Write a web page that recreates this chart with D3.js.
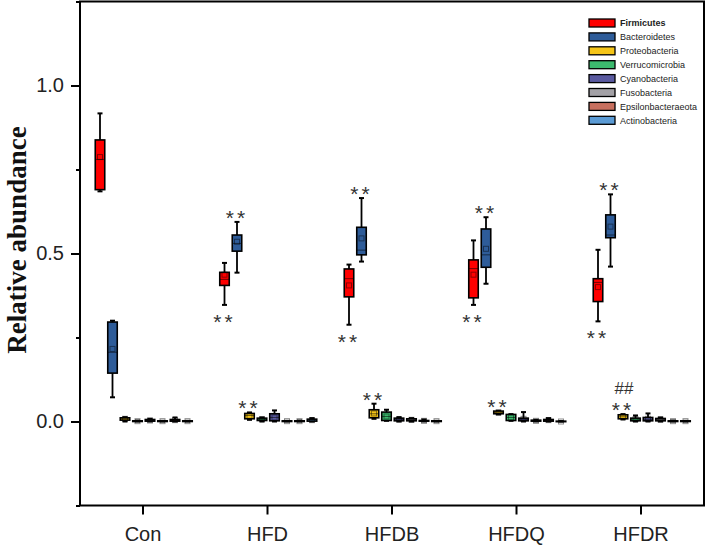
<!DOCTYPE html>
<html><head><meta charset="utf-8">
<script src="https://cdn.jsdelivr.net/npm/d3@7"></script>
<style>
html,body{margin:0;padding:0;background:#fff;}
svg{display:block;}
</style></head>
<body>
<svg id="chart" width="709" height="545"></svg>
<script>
// ---------- data ----------
const categories = ["Con", "HFD", "HFDB", "HFDQ", "HFDR"];
const phyla = ["Firmicutes", "Bacteroidetes", "Proteobacteria", "Verrucomicrobia",
  "Cyanobacteria", "Fusobacteria", "Epsilonbacteraeota", "Actinobacteria"];
const phylumColors = ["#ff0000", "#2e5c99", "#f5c518", "#3cba6e",
  "#5a5aa0", "#a3a1a6", "#c8705f", "#5b9bd5"];
const yMajorTicks = [0, 0.5, 1.0];
const yMinorTicks = [-0.25, 0.25, 0.75, 1.25];

// each entry per group: [min, q1, median, q3, max, mean]
const firmicutes = [[0.685, 0.69, 0.78, 0.838, 0.917, 0.787], [0.347, 0.405, 0.423, 0.444, 0.472, 0.437],
  [0.288, 0.371, 0.425, 0.454, 0.467, 0.405], [0.347, 0.368, 0.455, 0.481, 0.539, 0.437],
  [0.298, 0.357, 0.414, 0.425, 0.511, 0.40]];
const bacteroidetes = [[0.072, 0.144, 0.206, 0.296, 0.30, 0.216], [0.443, 0.507, 0.53, 0.555, 0.594, 0.535],
  [0.476, 0.496, 0.51, 0.578, 0.665, 0.545], [0.41, 0.459, 0.496, 0.573, 0.608, 0.514],
  [0.461, 0.547, 0.555, 0.615, 0.676, 0.58]];
const proteobacteria = [[0.0, 0.004, 0.008, 0.011, 0.013, 0.008], [0.005, 0.008, 0.018, 0.024, 0.027, 0.017],
  [0.008, 0.011, 0.023, 0.035, 0.053, 0.024], [0.021, 0.023, 0.027, 0.031, 0.032, 0.027],
  [0.006, 0.008, 0.014, 0.02, 0.022, 0.014]];
const verrucomicrobia = [[0, 0, 0.001, 0.002, 0.003, 0.001], [0.0, 0.003, 0.006, 0.01, 0.012, 0.007],
  [0.002, 0.003, 0.015, 0.028, 0.035, 0.015], [0.002, 0.003, 0.012, 0.021, 0.022, 0.012],
  [0.0, 0.002, 0.005, 0.01, 0.018, 0.007]];
const cyanobacteria = [[0, 0.001, 0.003, 0.006, 0.008, 0.003], [0.0, 0.002, 0.012, 0.023, 0.033, 0.012],
  [0, 0.002, 0.006, 0.01, 0.013, 0.006], [0, 0.002, 0.006, 0.01, 0.028, 0.008],
  [0, 0.002, 0.006, 0.012, 0.024, 0.008]];
const fusobacteria = [[0, 0, 0.001, 0.002, 0.002, 0.001], [0, 0, 0.001, 0.002, 0.002, 0.001],
  [0, 0.002, 0.005, 0.008, 0.01, 0.005], [0, 0.001, 0.002, 0.004, 0.005, 0.002],
  [0, 0.002, 0.006, 0.009, 0.012, 0.006]];
const epsilonbacteraeota = [[0, 0.001, 0.003, 0.006, 0.012, 0.004], [0, 0, 0.001, 0.002, 0.003, 0.001],
  [0, 0.001, 0.002, 0.003, 0.006, 0.002], [0, 0.001, 0.003, 0.006, 0.01, 0.004],
  [0, 0, 0.001, 0.002, 0.003, 0.001]];
const actinobacteria = [[0, 0, 0.001, 0.002, 0.002, 0.001], [0, 0.001, 0.004, 0.007, 0.01, 0.004],
  [0, 0, 0.001, 0.002, 0.002, 0.001], [0, 0, 0, 0.001, 0.001, 0],
  [0, 0, 0.001, 0.002, 0.002, 0.001]];
const seriesStats = [firmicutes, bacteroidetes, proteobacteria, verrucomicrobia,
  cyanobacteria, fusobacteria, epsilonbacteraeota, actinobacteria];

// significance marks
const annotations = [
  {group: "HFD", phylum: "Bacteroidetes", text: "**", pos: "above"},
  {group: "HFD", phylum: "Firmicutes", text: "**", pos: "below"},
  {group: "HFD", phylum: "Proteobacteria", text: "**", pos: "above"},
  {group: "HFDB", phylum: "Bacteroidetes", text: "**", pos: "above"},
  {group: "HFDB", phylum: "Firmicutes", text: "**", pos: "below"},
  {group: "HFDB", phylum: "Proteobacteria", text: "**", pos: "above"},
  {group: "HFDQ", phylum: "Bacteroidetes", text: "**", pos: "above"},
  {group: "HFDQ", phylum: "Firmicutes", text: "**", pos: "below"},
  {group: "HFDQ", phylum: "Proteobacteria", text: "**", pos: "above"},
  {group: "HFDR", phylum: "Bacteroidetes", text: "**", pos: "above"},
  {group: "HFDR", phylum: "Firmicutes", text: "**", pos: "below"},
  {group: "HFDR", phylum: "Proteobacteria", text: "**", pos: "above"},
  {group: "HFDR", phylum: "Proteobacteria", text: "##", pos: "above2"}
];

// ---------- layout ----------
const svg = d3.select("#chart");
const padL = 80, padR = 704, padT = 1.5, padB = 505.5;
const y = d3.scaleLinear().domain([-0.25, 1.25]).range([padB, padT]);
const x = d3.scalePoint().domain(categories).range([142.5, 640.5]);
const xIn = d3.scalePoint().domain(phyla).range([-42.5, 45]);
const boxW = 9.5, capW = 5;
const sans = "'Liberation Sans', Arial, sans-serif";

// frame
svg.append("rect").attr("x", padL).attr("y", padT).attr("width", padR - padL).attr("height", padB - padT)
  .attr("fill", "none").attr("stroke", "#000").attr("stroke-width", 2);

// y axis
const yAxis = svg.append("g").attr("transform", `translate(${padL},0)`)
  .call(d3.axisLeft(y).tickValues(yMajorTicks).tickFormat(d3.format(".1f")).tickSize(9).tickPadding(7));
yAxis.select(".domain").remove();
yAxis.selectAll("line").attr("stroke-width", 2);
yAxis.selectAll("text").attr("font-family", sans).attr("font-size", 20).attr("fill", "#222");
const yMinor = svg.append("g").attr("transform", `translate(${padL},0)`)
  .call(d3.axisLeft(y).tickValues(yMinorTicks).tickFormat("").tickSize(4));
yMinor.select(".domain").remove();
yMinor.selectAll("line").attr("stroke-width", 2);

// x axis
const xAxis = svg.append("g").attr("transform", `translate(0,${padB})`)
  .call(d3.axisBottom(x).tickSize(9).tickPadding(12));
xAxis.select(".domain").remove();
xAxis.selectAll("line").attr("stroke-width", 2);
xAxis.selectAll("text").attr("font-family", sans).attr("font-size", 20).attr("fill", "#222");

// y label
svg.append("text").attr("transform", "translate(26,240) rotate(-90)")
  .attr("text-anchor", "middle").attr("font-family", "'Liberation Serif', 'Times New Roman', serif")
  .attr("font-weight", "bold").attr("font-size", 27).attr("fill", "#111").text("Relative abundance");

// boxes
const boxes = [];
phyla.forEach((p, pi) => {
  categories.forEach((c, ci) => {
    const s = seriesStats[pi][ci];
    boxes.push({phylum: p, group: c, color: phylumColors[pi], cx: x(c) + xIn(p),
      min: s[0], q1: s[1], med: s[2], q3: s[3], max: s[4], mean: s[5]});
  });
});
const g = svg.append("g");
const bg = g.selectAll("g.box").data(boxes).join("g").attr("class", "box");
bg.append("line").attr("x1", d => d.cx).attr("x2", d => d.cx)
  .attr("y1", d => y(d.max)).attr("y2", d => y(d.min)).attr("stroke", "#000").attr("stroke-width", 1.8);
bg.append("line").attr("x1", d => d.cx - capW / 2).attr("x2", d => d.cx + capW / 2)
  .attr("y1", d => y(d.max)).attr("y2", d => y(d.max)).attr("stroke", "#000").attr("stroke-width", 2);
bg.append("line").attr("x1", d => d.cx - capW / 2).attr("x2", d => d.cx + capW / 2)
  .attr("y1", d => y(d.min)).attr("y2", d => y(d.min)).attr("stroke", "#000").attr("stroke-width", 2);
bg.append("rect").attr("x", d => d.cx - boxW / 2).attr("width", boxW)
  .attr("y", d => y(d.q3)).attr("height", d => Math.max(0.5, y(d.q1) - y(d.q3)))
  .attr("fill", d => d.color).attr("stroke", "#000").attr("stroke-width", 1.6);
bg.append("line").attr("x1", d => d.cx - boxW / 2).attr("x2", d => d.cx + boxW / 2)
  .attr("y1", d => y(d.med)).attr("y2", d => y(d.med)).attr("stroke", "#000").attr("stroke-opacity", 0.55).attr("stroke-width", 1);
bg.append("rect").attr("x", d => d.cx - 2.5).attr("width", 5)
  .attr("y", d => y(d.mean) - 2.5).attr("height", 5)
  .attr("fill", "none").attr("stroke", "#000").attr("stroke-opacity", 0.45).attr("stroke-width", 1);

// annotations
const boxOf = (gr, ph) => boxes.find(b => b.group === gr && b.phylum === ph);
svg.append("g").selectAll("text").data(annotations).join("text")
  .attr("x", d => boxOf(d.group, d.phylum).cx + (d.text === "##" ? 1 : 0))
  .attr("y", d => {
    const b = boxOf(d.group, d.phylum);
    if (d.pos === "below") return y(b.min) + 24;
    if (d.pos === "above2") return y(b.max) - 20;
    return y(b.max) + 3;
  })
  .attr("text-anchor", "middle").attr("font-family", sans)
  .attr("font-size", d => d.text === "##" ? 17 : 21)
  .attr("letter-spacing", d => d.text === "**" ? 3 : 0)
  .attr("fill", "#333").text(d => d.text);

// legend
const leg = svg.append("g").selectAll("g").data(phyla).join("g")
  .attr("transform", (d, i) => `translate(589,${23 + i * 13.9})`);
leg.append("rect").attr("x", 0).attr("y", -4).attr("width", 26).attr("height", 8)
  .attr("fill", (d, i) => phylumColors[i]).attr("stroke", "#000").attr("stroke-width", 1.3);
leg.append("text").attr("x", 31).attr("y", 3.2).attr("font-family", sans).attr("font-size", 9)
  .attr("font-weight", (d, i) => i === 0 ? "bold" : "normal").attr("fill", "#222").text(d => d);
</script>
</body></html>
